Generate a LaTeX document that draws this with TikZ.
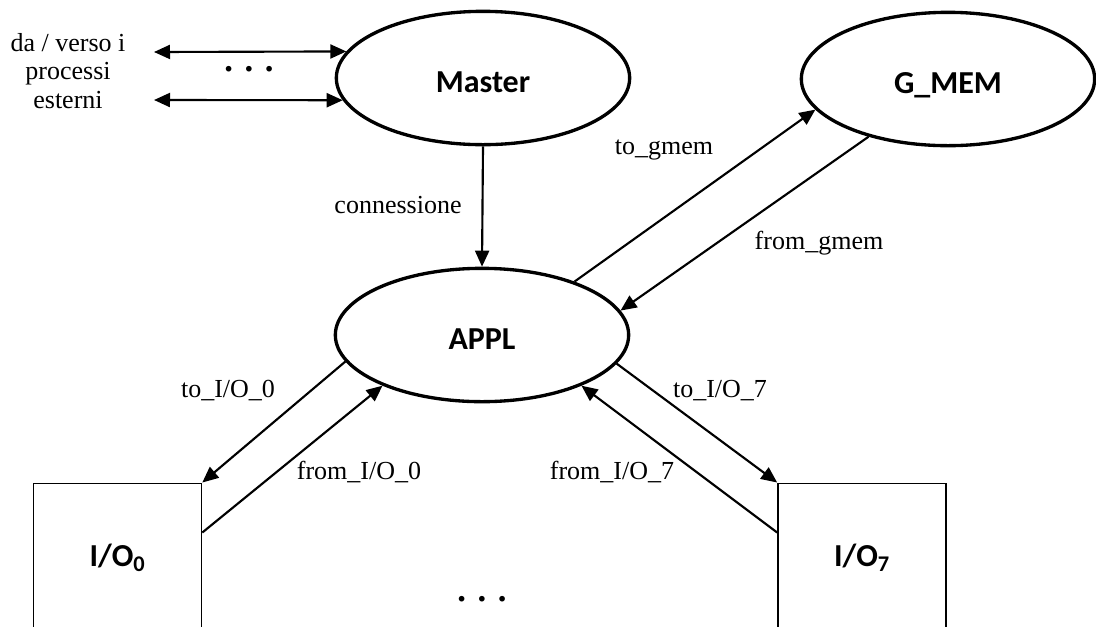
\documentclass[tikz,border=0pt]{standalone}
\usepackage{fontspec}
\setmainfont{Liberation Serif}
\newfontfamily\procfont{Carlito}
\usetikzlibrary{arrows.meta}
\usetikzlibrary{shapes.geometric}
\usetikzlibrary{calc}

\tikzset{
  proc/.style={ellipse, draw, line width=2.5pt, minimum width=220pt, minimum height=100pt, inner sep=0pt, text height=21pt, text depth=0pt, font=\procfont\bfseries\fontsize{24}{28}\selectfont},
  iobox/.style={rectangle, draw, line width=1.2pt, minimum width=126pt, minimum height=112pt, inner sep=0pt, font=\procfont\bfseries\fontsize{24}{28}\selectfont},
  lbl/.style={inner sep=0.75pt, font=\fontsize{19.5}{21.5}\selectfont},
  dots/.style={inner sep=0.75pt, font=\bfseries\fontsize{26}{28}\selectfont},
  conn/.style={line width=1.6pt, -{Triangle[length=12pt,width=10.5pt]}},
  biconn/.style={line width=1.6pt, {Triangle[length=12pt,width=10.5pt]}-{Triangle[length=12pt,width=10.5pt]}},
}

\begin{document}
\begin{tikzpicture}[x=0.75pt,y=0.75pt,yscale=-1,xscale=1]
%set diagram left start at 0, and has height of 626
\clip (0,0) rectangle (1096,626);

%Shape: Ellipse [id:master]
\node[proc] (master) at (483,78) {Master};
%Shape: Ellipse [id:gmem]
\node[proc] (gmem) at (948,79) {G\_MEM};
%Shape: Ellipse [id:appl]
\node[proc] (appl) at (482,335) {APPL};

%Shape: Rectangle [id:io0]
\node[iobox] (io0) at (117.5,558) {I/O\textsubscript{0}};
%Shape: Rectangle [id:io7]
\node[iobox] (io7) at (862,558) {I/O\textsubscript{7}};

%Straight Lines [id:ext]
\coordinate (extA) at (154,52);
\coordinate (extB) at (154,100);
\draw[biconn] (extA) -- (master.169.5);
\draw[biconn] (extB) -- (master.189);

%Straight Lines [id:conn]
\draw[conn] (master.south) -- (appl.north);
%Straight Lines [id:gmem]
\draw[conn] (appl.30) -- (gmem.193);
\draw[conn] (gmem.216) -- (appl.10);
%Straight Lines [id:io0]
\draw[conn] (appl.191) -- (io0.north east);
\draw[conn] ($(io0.north east)+(0,50)$) -- (appl.207);
%Straight Lines [id:io7]
\draw[conn] (appl.348) -- (io7.north west);
\draw[conn] ($(io7.north west)+(0,50)$) -- (appl.333);

% Text Node
\node[lbl, align=center] (extTxt) at (68,71) {da / verso i\\processi\\esterni};
% Text Node
\node[dots] (dotsTop) at (249,69) {.\,\,.\,\,.};
% Text Node
\node[lbl] (connTxt) at (398,205) {connessione};
% Text Node
\node[lbl] (toGmem) at (664,150) {to\_gmem};
% Text Node
\node[lbl] (fromGmem) at (819,243) {from\_gmem};
% Text Node
\node[lbl] (toIo0) at (228,391) {to\_I/O\_0};
% Text Node
\node[lbl] (fromIo0) at (359,472) {from\_I/O\_0};
% Text Node
\node[lbl] (toIo7) at (720,391) {to\_I/O\_7};
% Text Node
\node[lbl] (fromIo7) at (612,472) {from\_I/O\_7};
% Text Node
\node[dots] (dotsBot) at (482,599) {.\,\,.\,\,.};

\end{tikzpicture}
\end{document}
